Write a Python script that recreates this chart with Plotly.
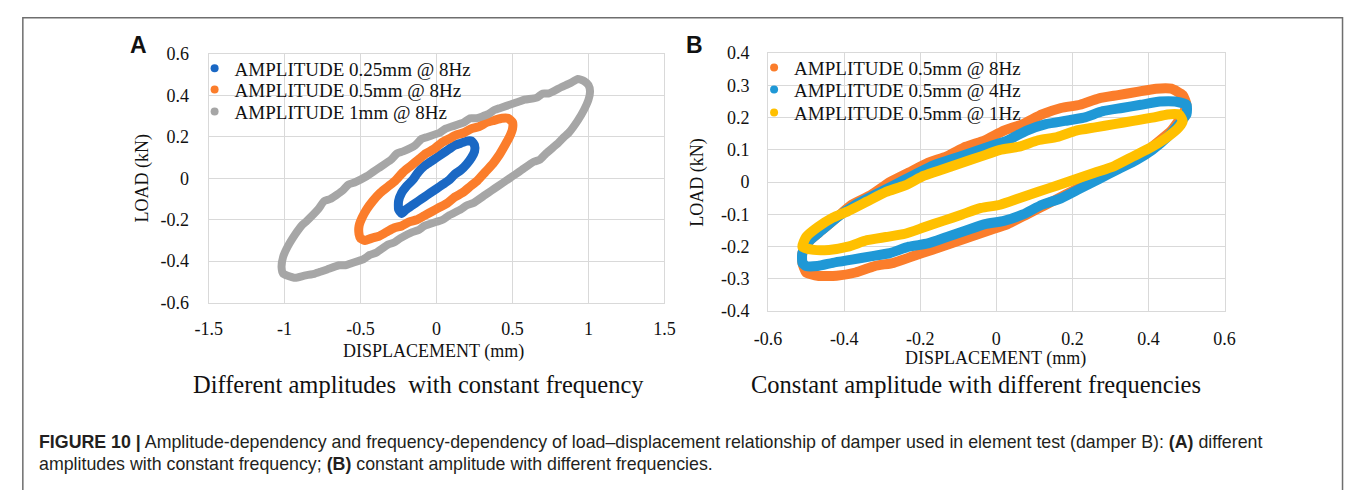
import plotly.graph_objects as go

# ---------------- Panel A: different amplitudes at 8 Hz ----------------
a_x_ticks = [-1.5, -1, -0.5, 0, 0.5, 1, 1.5]
a_x_ticktext = ["-1.5", "-1", "-0.5", "0", "0.5", "1", "1.5"]
a_y_ticks = [-0.6, -0.4, -0.2, 0, 0.2, 0.4, 0.6]
a_y_ticktext = ["-0.6", "-0.4", "-0.2", "0", "0.2", "0.4", "0.6"]

a_names = ["AMPLITUDE 0.25mm @ 8Hz", "AMPLITUDE 0.5mm @ 8Hz", "AMPLITUDE 1mm @ 8Hz"]
a_colors = ["#1a68c4", "#fb7d2b", "#a6a6a6"]

# 0.25 mm loop (displacement mm, load kN)
a025_disp = [-0.25, -0.25, -0.23, -0.20, -0.16, -0.12, -0.08, -0.04, 0.00, 0.04, 0.08, 0.12,
             0.16, 0.20, 0.23, 0.25, 0.25, 0.23, 0.20, 0.16, 0.12, 0.08, 0.04, 0.00, -0.04,
             -0.08, -0.12, -0.16, -0.20, -0.23, -0.25]
a025_load = [-0.15, -0.11, -0.07, -0.04, -0.01, 0.03, 0.06, 0.08, 0.10, 0.12, 0.14, 0.16,
             0.17, 0.18, 0.18, 0.16, 0.13, 0.10, 0.07, 0.04, 0.02, -0.01, -0.03, -0.05, -0.07,
             -0.09, -0.11, -0.13, -0.15, -0.17, -0.15]

# 0.5 mm loop
a05_disp = [-0.51, -0.51, -0.49, -0.46, -0.42, -0.37, -0.32, -0.27, -0.22, -0.17, -0.12, -0.07,
            -0.02, 0.03, 0.08, 0.13, 0.18, 0.23, 0.28, 0.33, 0.38, 0.43, 0.47, 0.50, 0.50,
            0.48, 0.45, 0.41, 0.37, 0.32, 0.27, 0.22, 0.17, 0.12, 0.07, 0.02, -0.03, -0.08,
            -0.13, -0.18, -0.23, -0.28, -0.33, -0.38, -0.43, -0.47, -0.50, -0.51]
a05_load = [-0.27, -0.23, -0.19, -0.15, -0.11, -0.07, -0.04, -0.01, 0.03, 0.06, 0.09, 0.12,
            0.14, 0.17, 0.19, 0.21, 0.22, 0.24, 0.25, 0.27, 0.28, 0.29, 0.29, 0.27, 0.24,
            0.20, 0.16, 0.11, 0.07, 0.03, -0.01, -0.04, -0.07, -0.09, -0.12, -0.14, -0.16, -0.18,
            -0.20, -0.21, -0.23, -0.24, -0.26, -0.28, -0.29, -0.30, -0.29, -0.27]

# 1 mm loop
a1_disp = [-1.02, -1.01, -0.98, -0.93, -0.89, -0.86, -0.78, -0.74, -0.70, -0.62, -0.58, -0.54,
           -0.46, -0.42, -0.38, -0.30, -0.26, -0.22, -0.14, -0.10, -0.06, 0.02, 0.06, 0.10,
           0.18, 0.22, 0.26, 0.34, 0.38, 0.42, 0.50, 0.54, 0.58, 0.66, 0.70, 0.74,
           0.82, 0.88, 0.93, 0.97, 1.00, 1.01,
           1.00, 0.97, 0.93, 0.87, 0.84, 0.80, 0.72, 0.68, 0.64, 0.56, 0.52, 0.48, 0.40,
           0.36, 0.32, 0.24, 0.20, 0.16, 0.08, 0.04, 0.00, -0.08, -0.12, -0.16, -0.24,
           -0.28, -0.32, -0.40, -0.44, -0.48, -0.56, -0.60, -0.64, -0.72, -0.76, -0.80, -0.87,
           -0.93, -0.98, -1.01, -1.02]
a1_load = [-0.43, -0.38, -0.33, -0.27, -0.23, -0.21, -0.15, -0.11, -0.10, -0.06, -0.03, -0.02,
           0.01, 0.03, 0.05, 0.09, 0.12, 0.13, 0.16, 0.19, 0.20, 0.22, 0.24, 0.25,
           0.27, 0.29, 0.29, 0.31, 0.33, 0.34, 0.36, 0.37, 0.38, 0.39, 0.41, 0.41,
           0.44, 0.46, 0.48, 0.47, 0.45, 0.42,
           0.38, 0.33, 0.28, 0.22, 0.20, 0.17, 0.12, 0.09, 0.08, 0.04, 0.02, 0.00, -0.04,
           -0.06, -0.08, -0.12, -0.13, -0.15, -0.18, -0.20, -0.21, -0.23, -0.25, -0.26, -0.29,
           -0.31, -0.32, -0.36, -0.37, -0.39, -0.41, -0.42, -0.42, -0.44, -0.45, -0.46, -0.47,
           -0.48, -0.47, -0.46, -0.43]

# ---------------- Panel B: 0.5 mm at different frequencies ----------------
b_x_ticks = [-0.6, -0.4, -0.2, 0, 0.2, 0.4, 0.6]
b_x_ticktext = ["-0.6", "-0.4", "-0.2", "0", "0.2", "0.4", "0.6"]
b_y_ticks = [-0.4, -0.3, -0.2, -0.1, 0, 0.1, 0.2, 0.3, 0.4]
b_y_ticktext = ["-0.4", "-0.3", "-0.2", "-0.1", "0", "0.1", "0.2", "0.3", "0.4"]

b_names = ["AMPLITUDE 0.5mm @ 8Hz", "AMPLITUDE 0.5mm @ 4Hz", "AMPLITUDE 0.5mm @ 1Hz"]
b_colors = ["#fb7d2b", "#1f98d6", "#ffc000"]

b8_disp = [-0.51, -0.51, -0.49, -0.46, -0.42, -0.38, -0.33, -0.28, -0.23, -0.18, -0.13, -0.08,
           -0.03, 0.02, 0.07, 0.12, 0.17, 0.22, 0.27, 0.32, 0.37, 0.42, 0.46, 0.49, 0.50,
           0.49, 0.46, 0.42, 0.38, 0.33, 0.28, 0.23, 0.18, 0.13, 0.08, 0.03, -0.02, -0.07,
           -0.12, -0.17, -0.22, -0.27, -0.32, -0.37, -0.42, -0.47, -0.50, -0.51]
b8_load = [-0.25, -0.22, -0.18, -0.15, -0.11, -0.07, -0.04, 0.00, 0.03, 0.06, 0.08, 0.11,
           0.13, 0.16, 0.18, 0.21, 0.23, 0.24, 0.26, 0.27, 0.28, 0.29, 0.29, 0.27, 0.24,
           0.21, 0.16, 0.12, 0.08, 0.05, 0.02, -0.01, -0.04, -0.07, -0.10, -0.13, -0.15, -0.17,
           -0.19, -0.21, -0.23, -0.25, -0.26, -0.28, -0.29, -0.29, -0.28, -0.25]

b4_disp = [-0.51, -0.51, -0.49, -0.46, -0.42, -0.37, -0.32, -0.27, -0.22, -0.17, -0.12, -0.07,
           -0.02, 0.03, 0.08, 0.13, 0.18, 0.23, 0.28, 0.33, 0.38, 0.43, 0.47, 0.50, 0.50,
           0.48, 0.45, 0.41, 0.37, 0.32, 0.27, 0.22, 0.17, 0.12, 0.07, 0.02, -0.03, -0.08,
           -0.13, -0.18, -0.23, -0.28, -0.33, -0.38, -0.43, -0.47, -0.50, -0.51]
b4_load = [-0.25, -0.22, -0.18, -0.15, -0.11, -0.07, -0.04, -0.01, 0.02, 0.05, 0.07, 0.09,
           0.11, 0.13, 0.16, 0.18, 0.19, 0.20, 0.22, 0.23, 0.24, 0.25, 0.25, 0.24, 0.21,
           0.18, 0.14, 0.10, 0.07, 0.04, 0.01, -0.02, -0.05, -0.07, -0.10, -0.12, -0.13, -0.15,
           -0.17, -0.19, -0.20, -0.22, -0.23, -0.24, -0.25, -0.26, -0.26, -0.25]

b1_disp = [-0.51, -0.50, -0.47, -0.43, -0.39, -0.34, -0.29, -0.24, -0.19, -0.14, -0.09, -0.04,
           0.01, 0.06, 0.11, 0.16, 0.21, 0.26, 0.31, 0.36, 0.41, 0.45, 0.48, 0.49,
           0.48, 0.45, 0.41, 0.36, 0.31, 0.26, 0.21, 0.16, 0.11, 0.06, 0.01, -0.04, -0.09,
           -0.14, -0.19, -0.24, -0.29, -0.34, -0.39, -0.44, -0.48, -0.51]
b1_load = [-0.20, -0.17, -0.14, -0.11, -0.09, -0.06, -0.03, -0.01, 0.02, 0.04, 0.06, 0.08,
           0.10, 0.11, 0.13, 0.14, 0.16, 0.17, 0.18, 0.19, 0.20, 0.21, 0.21, 0.19,
           0.17, 0.14, 0.11, 0.08, 0.05, 0.03, 0.01, -0.01, -0.03, -0.05, -0.07, -0.08, -0.10,
           -0.12, -0.14, -0.16, -0.17, -0.18, -0.20, -0.21, -0.21, -0.20]

W, H = 1355, 490
SERIF = "Liberation Serif"
SANS = "Liberation Sans"


def px(x):
    return x / W


def py(y):
    return 1 - y / H


fig = go.Figure()

# one single-entry legend per series so each row can sit where it belongs
a_legend_rows = [61, 83, 106]
b_legend_rows = [60, 83, 107]
legends = {}

a_loops = [(a025_disp, a025_load), (a05_disp, a05_load), (a1_disp, a1_load)]
a_widths = [9, 9, 8]
for i, ((xs, ys), name, col, lw) in enumerate(zip(a_loops, a_names, a_colors, a_widths)):
    lg = "legend" if i == 0 else f"legend{i + 1}"
    fig.add_trace(go.Scatter(x=xs, y=ys, mode="lines", showlegend=False,
                             line=dict(color=col, width=lw, shape="spline", smoothing=0.5),
                             xaxis="x", yaxis="y", hoverinfo="skip"))
    fig.add_trace(go.Scatter(x=[None], y=[None], mode="markers", name=name,
                             marker=dict(color=col, size=8), xaxis="x", yaxis="y",
                             legend=lg))
    legends[lg] = dict(x=px(184), y=py(a_legend_rows[i]))

b_loops = [(b8_disp, b8_load), (b4_disp, b4_load), (b1_disp, b1_load)]
for i, ((xs, ys), name, col) in enumerate(zip(b_loops, b_names, b_colors)):
    lg = f"legend{i + 4}"
    fig.add_trace(go.Scatter(x=xs, y=ys, mode="lines", showlegend=False,
                             line=dict(color=col, width=10, shape="spline", smoothing=0.5),
                             xaxis="x2", yaxis="y2", hoverinfo="skip"))
    fig.add_trace(go.Scatter(x=[None], y=[None], mode="markers", name=name,
                             marker=dict(color=col, size=8), xaxis="x2", yaxis="y2",
                             legend=lg))
    legends[lg] = dict(x=px(754), y=py(b_legend_rows[i]))

for lg, pos in legends.items():
    fig.update_layout({lg: dict(x=pos["x"], y=pos["y"], xanchor="left", yanchor="middle",
                                bgcolor="rgba(0,0,0,0)", borderwidth=0, itemwidth=30,
                                font=dict(family=SERIF, size=19, color="#111"))})

axis_common = dict(showgrid=True, gridcolor="#d9d9d9", gridwidth=1, zeroline=False,
                   showline=True, linecolor="#d9d9d9", linewidth=1, mirror=True,
                   ticks="outside", tickcolor="rgba(0,0,0,0)",
                   tickfont=dict(family=SERIF, size=18, color="#111"))

fig.update_layout(
    width=W, height=H, margin=dict(l=0, r=0, t=0, b=0),
    paper_bgcolor="white", plot_bgcolor="white", showlegend=True,
    xaxis=dict(domain=[px(198.3), px(662.7)], range=[-1.5, 1.5], tickvals=a_x_ticks,
               ticktext=a_x_ticktext, anchor="y", ticklen=10, **axis_common),
    yaxis=dict(domain=[py(305), py(46)], range=[-0.6, 0.6], tickvals=a_y_ticks,
               ticktext=a_y_ticktext, anchor="x", ticklen=15, **axis_common),
    xaxis2=dict(domain=[px(768.3), px(1233.3)], range=[-0.6, 0.6], tickvals=b_x_ticks,
                ticktext=b_x_ticktext, anchor="y2", ticklen=11, **axis_common),
    yaxis2=dict(domain=[py(314), py(45)], range=[-0.4, 0.4], tickvals=b_y_ticks,
                ticktext=b_y_ticktext, anchor="x2", ticklen=14, **axis_common),
)

ann = []


def text(x, y, s, size, family, **kw):
    opts = dict(xanchor="center", yanchor="middle")
    opts.update(kw)
    color = opts.pop("color", "#111")
    ann.append(dict(x=px(x), y=py(y), xref="paper", yref="paper", text=s, showarrow=False,
                    font=dict(family=family, size=size, color=color), **opts))


# panel letters
text(127, 36, "<b>A</b>", 23, SANS)
text(693, 36, "<b>B</b>", 23, SANS)
# axis titles
text(427, 356, "DISPLACEMENT (mm)", 18, SERIF)
text(1000, 363, "DISPLACEMENT (mm)", 18, SERIF)
text(131, 176, "LOAD (kN)", 18, SERIF, textangle=-90)
text(696, 180, "LOAD (kN)", 18, SERIF, textangle=-90)
# panel subtitles
text(412, 390, "Different amplitudes  with constant frequency", 24.5, SERIF)
text(980, 390, "Constant amplitude with different frequencies", 24.5, SERIF)
# figure caption
text(23, 450, "<b>FIGURE 10 |</b> Amplitude-dependency and frequency-dependency of load–displacement "
     "relationship of damper used in element test (damper B): <b>(A)</b> different",
     17.8, SANS, xanchor="left", color="#231f20")
text(23, 473, "amplitudes with constant frequency; <b>(B)</b> constant amplitude with different frequencies.",
     17.8, SANS, xanchor="left", color="#231f20")

fig.update_layout(annotations=ann)

# outer figure frame (open at the bottom edge of the page)
fig.add_shape(type="rect", xref="paper", yref="paper", x0=px(9), x1=px(1353.5),
              y0=-0.1, y1=py(8), line=dict(color="#6e6e6e", width=1.5))

# page without body margin so the figure fills the window exactly
fig.write_html("out.html", post_script="document.body.style.margin='0';")
